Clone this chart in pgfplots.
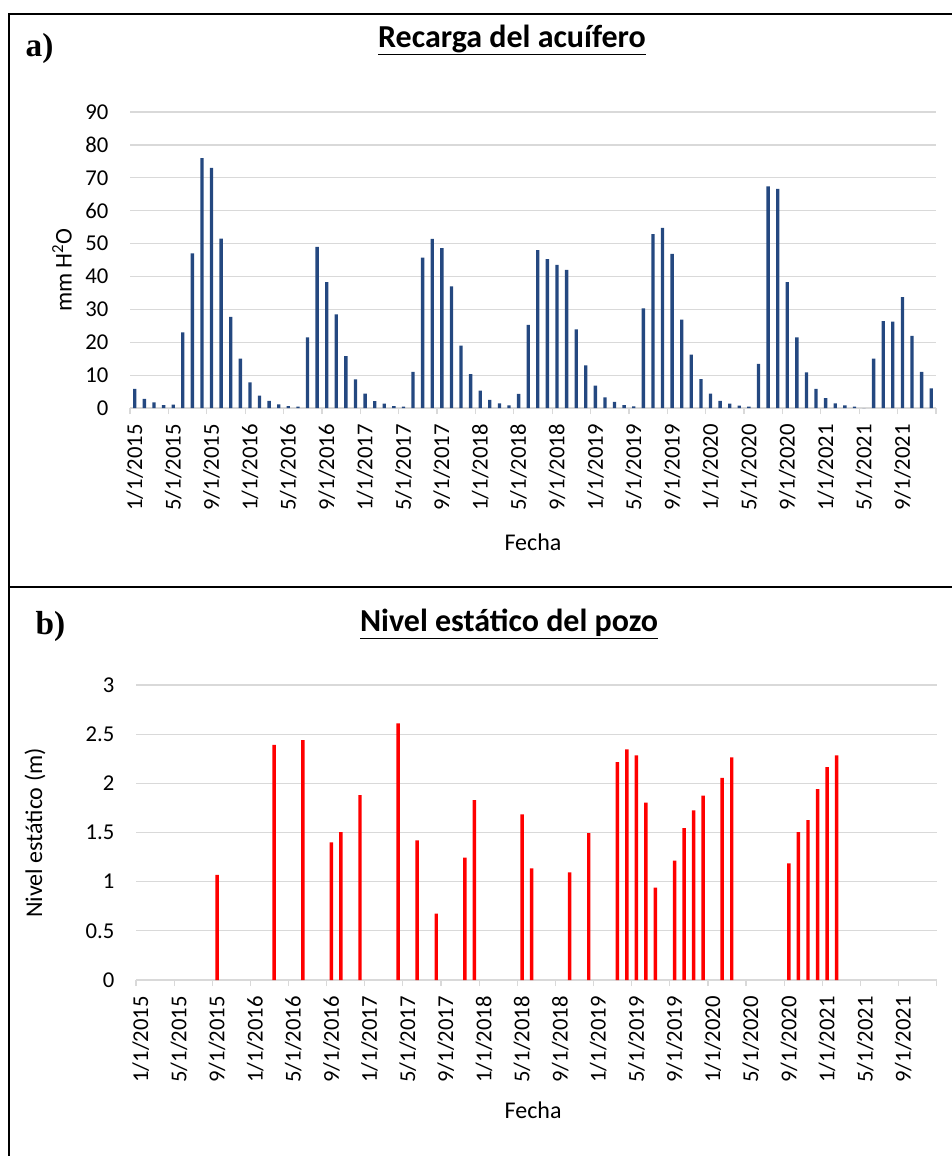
\documentclass[border=0pt]{standalone}
\usepackage{fontspec}
\setmainfont{Carlito}
\newfontfamily\timesf{Liberation Serif}
\usepackage{pgfplots}
\pgfplotsset{compat=1.18}
\definecolor{barblue}{RGB}{36,72,128}
\definecolor{gridgray}{RGB}{217,217,217}

\pgfplotstableread{
x y
0 5.8
1 2.8
2 1.7
3 0.9
4 1.0
5 23.0
6 47.0
7 76.0
8 73.0
9 51.5
10 27.7
11 15.0
12 7.8
13 3.8
14 2.2
15 1.1
16 0.6
17 0.4
18 21.5
19 49.0
20 38.3
21 28.5
22 15.8
23 8.7
24 4.4
25 2.1
26 1.3
27 0.6
28 0.4
29 11.0
30 45.7
31 51.4
32 48.6
33 37.0
34 19.0
35 10.3
36 5.3
37 2.5
38 1.4
39 0.8
40 4.3
41 25.3
42 48.0
43 45.3
44 43.5
45 42.0
46 23.9
47 13.0
48 6.8
49 3.2
50 1.9
51 0.9
52 0.5
53 30.3
54 52.9
55 54.8
56 46.9
57 26.9
58 16.2
59 8.8
60 4.4
61 2.2
62 1.3
63 0.7
64 0.4
65 13.4
66 67.4
67 66.6
68 38.3
69 21.5
70 10.8
71 5.8
72 3.0
73 1.4
74 0.8
75 0.4
76 0.0
77 15.0
78 26.4
79 26.3
80 33.7
81 21.9
82 11.0
83 6.0
}\recarga

\pgfplotstableread{
x y
8 1.07
14 2.39
17 2.44
20 1.40
21 1.505
23 1.88
27 2.61
29 1.42
31 0.675
34 1.245
35 1.83
40 1.685
41 1.135
45 1.095
47 1.495
50 2.215
51 2.345
52 2.285
53 1.805
54 0.94
56 1.215
57 1.545
58 1.725
59 1.875
61 2.055
62 2.265
68 1.185
69 1.505
70 1.625
71 1.94
72 2.165
73 2.285
}\nivel

\pgfplotsset{
 common/.style={
  scale only axis,
  xmin=-0.5, xmax=83.5,
  axis x line*=bottom, axis y line*=left,
  y axis line style={draw=none},
  x axis line style={gridgray, line width=0.9pt},
  ymajorgrids, grid style={gridgray, line width=0.9pt},
  xtick={0,4,...,80},
  xticklabels={1/1/2015,5/1/2015,9/1/2015,1/1/2016,5/1/2016,9/1/2016,1/1/2017,5/1/2017,9/1/2017,1/1/2018,5/1/2018,9/1/2018,1/1/2019,5/1/2019,9/1/2019,1/1/2020,5/1/2020,9/1/2020,1/1/2021,5/1/2021,9/1/2021},
  minor xtick={-0.5,3.5,...,83.5},
  major tick length=0pt, minor tick length=4.5pt, tick align=outside,
  minor tick style={gridgray, line width=0.9pt},
  major tick style={draw=none},
  xticklabel style={rotate=90, anchor=east, inner sep=0pt, font=\fontsize{17}{20}\selectfont},
  xticklabel shift=12pt,
  yticklabel style={font=\fontsize{17}{20}\selectfont, inner sep=0pt, anchor=east},
  yticklabel shift=16pt,
  /pgf/number format/assume math mode=true,
  label style={font=\fontsize{18}{21}\selectfont},
  title style={font=\bfseries\fontsize{24}{28}\selectfont},
  ybar, bar width=2.5pt,
 }
}

\begin{document}
\begin{tikzpicture}
\begin{scope}[x=0.75pt, y=-0.75pt]
\useasboundingbox (0,0) rectangle (952,1156);
\draw[line width=1.5pt] (9,1156) -- (9,14) -- (952,14);
\draw[line width=1.5pt] (9,586.5) -- (952,586.5);
\node[anchor=base west, font=\timesf\bfseries\fontsize{25}{28}\selectfont] at (21,57) {a)};
\node[anchor=base west, font=\timesf\bfseries\fontsize{25}{28}\selectfont] at (31,634) {b)};
\end{scope}

\begin{axis}[common,
  at={(97.5pt,-306pt)}, anchor=south west,
  width=604.5pt, height=222pt,
  ymin=0, ymax=90, ytick={0,10,...,90},
  title={\underline{Recarga del acuífero}},
  title style={at={(axis description cs:0.474,1.216)}, anchor=center},
  xlabel={Fecha},
  xlabel style={at={(axis description cs:0.5,-0.453)}, anchor=center},
  ylabel={mm H\textsuperscript{2}O},
  ylabel style={at={(axis description cs:-0.0844,0.466)}, anchor=center},
]
\addplot[fill=barblue, draw=none] table[x=x, y=y] {\recarga};
\end{axis}

\begin{axis}[common,
  at={(102pt,-735pt)}, anchor=south west,
  width=600.5pt, height=221.25pt,
  ymin=0, ymax=3, ytick={0,0.5,...,3},
  title={\underline{Nivel estático del pozo}},
  title style={at={(axis description cs:0.466,1.18)}, anchor=center},
  xlabel={Fecha},
  xlabel style={at={(axis description cs:0.496,-0.44)}, anchor=center},
  ylabel={Nivel estático (m)},
  ylabel style={at={(axis description cs:-0.126,0.498)}, anchor=center},
  bar width=2.6pt,
]
\addplot[fill=red, draw=none] table[x=x, y=y] {\nivel};
\end{axis}
\end{tikzpicture}
\end{document}
